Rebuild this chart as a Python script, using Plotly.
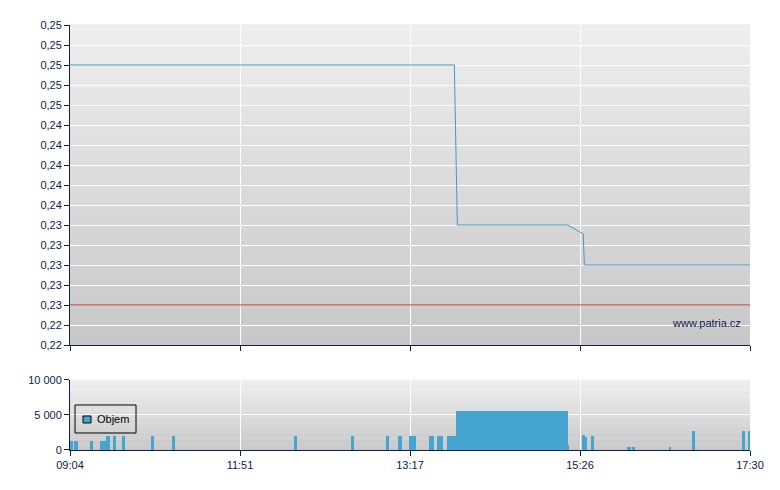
import plotly.graph_objects as go

## Donnees -------------------------------------------------------------------------------

# axe x = numero de la transaction (0..250), libelles horaires a 5 positions
tick_pos = [0, 62.5, 125, 187.5, 250]
tick_labels = ["09:04", "11:51", "13:17", "15:26", "17:30"]

price_x = [0, 141.3, 142.4, 183.0, 188.7, 189.1, 250]
price_y = [0.250, 0.250, 0.234, 0.234, 0.2331, 0.230, 0.230]

ref_price = 0.226  # cours de reference

vol_x = [0.5, 2.2, 7.85, 12.1, 13.95, 16.3, 19.6, 30.3, 38.0, 82.85, 103.8, 116.7,
         121.25, 125.85, 132.85, 135.95, 140.25, 162.45, 183.25, 188.7, 189.65, 192.0,
         205.45, 207.1, 220.6, 229.2, 247.55, 249.65]
vol_w = [0.9, 1.5, 1.0, 2.2, 1.5, 1.0, 1.0, 1.0, 1.0, 1.0, 1.0, 1.0,
         1.3, 2.5, 1.7, 2.1, 3.3, 41.1, 0.5, 1.0, 0.9, 1.0,
         1.3, 1.2, 1.0, 1.0, 1.0, 0.8]
vol_y = [1300, 1300, 1300, 1300, 2000, 2000, 2000, 2000, 2000, 2000, 2000, 2000,
         2000, 2000, 2000, 2000, 2000, 5570, 700, 2140, 1860, 2000,
         430, 430, 430, 2700, 2700, 2700]

## Figure --------------------------------------------------------------------------------

navy = "#0a2050"
blue = "#46a5cf"

fig = go.Figure()

fig.add_trace(go.Scatter(x=price_x, y=price_y, mode="lines",
                         line=dict(color="#4299c6", width=1),
                         showlegend=False, xaxis="x", yaxis="y"))

fig.add_trace(go.Scatter(x=[0, 250], y=[ref_price, ref_price], mode="lines",
                         line=dict(color="#b8282a", width=1),
                         showlegend=False, xaxis="x", yaxis="y"))

fig.add_trace(go.Bar(x=vol_x, y=vol_y, width=vol_w, name="Objem",
                     marker=dict(color=blue, line=dict(width=0)),
                     showlegend=False, xaxis="x2", yaxis="y2"))

# fond en degrade
n = 40
for ref in ["", "2"]:
    for i in range(n):
        c = round(238 - (238 - 200) * (i + 0.5) / n)
        fig.add_shape(type="rect", xref="x" + ref + " domain", yref="y" + ref + " domain",
                      x0=0, x1=1, y0=1 - (i + 1) / n, y1=1 - i / n + 0.002,
                      fillcolor="rgb(%d,%d,%d)" % (c, c, c), line=dict(width=0),
                      layer="below")

# legende faite a la main (cadre + carre + texte)
fig.add_shape(type="rect", xref="x2 domain", yref="y2 domain",
              x0=0.0074, x1=0.0971, y0=0.243, y1=0.643,
              line=dict(color="black", width=1), fillcolor="rgba(0,0,0,0)")
fig.add_shape(type="rect", xref="x2 domain", yref="y2 domain",
              x0=0.0191, x1=0.0309, y0=0.386, y1=0.486,
              line=dict(color="black", width=1), fillcolor=blue)
fig.add_annotation(text="Objem", xref="x2 domain", yref="y2 domain",
                   x=0.037, y=0.436, xanchor="left", yanchor="middle",
                   showarrow=False, font=dict(size=11, color="black"))

fig.add_annotation(text="www.patria.cz", xref="x domain", yref="y domain",
                   x=0.99, y=0.07, xanchor="right", yanchor="middle",
                   showarrow=False, font=dict(size=11, color=navy))

axis_common = dict(showline=True, linecolor=navy, linewidth=1, ticks="outside",
                   tickcolor=navy, ticklen=5, showgrid=True, gridcolor="white",
                   gridwidth=1, zeroline=False, tickfont=dict(size=11, color=navy))

fig.update_layout(
    width=780, height=490,
    margin=dict(l=62, r=38, t=17, b=48),
    paper_bgcolor="white", plot_bgcolor="white",
    separators=", ",
    font=dict(family="Liberation Sans", size=11, color=navy),
    bargap=0,
    showlegend=False,
    xaxis=dict(domain=[0, 1], range=[0, 250], tickvals=tick_pos,
               showticklabels=False, anchor="y", **axis_common),
    yaxis=dict(domain=[0.24706, 1], range=[0.222, 0.254], tick0=0.222, dtick=0.002,
               tickformat=".2f", anchor="x", **axis_common),
    xaxis2=dict(domain=[0, 1], range=[0, 250], tickvals=tick_pos, ticktext=tick_labels,
                anchor="y2", **axis_common),
    yaxis2=dict(domain=[0, 0.16471], range=[0, 10000], dtick=5000, tickformat=",d",
                anchor="x2", **axis_common),
)

fig.write_html("out.html")
